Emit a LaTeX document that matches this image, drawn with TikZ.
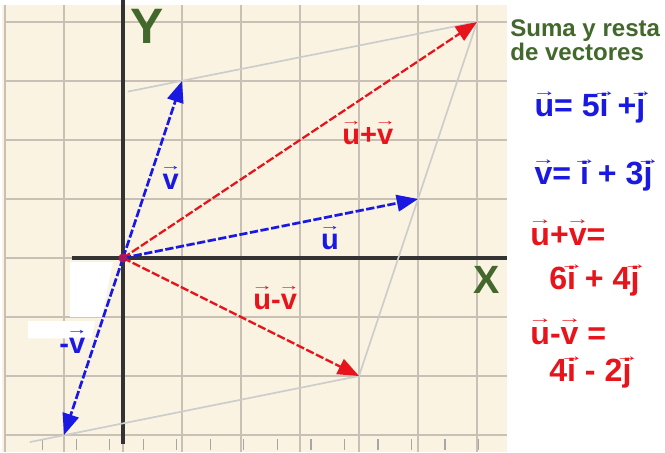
\documentclass[tikz,border=0pt]{standalone}
\usepackage{fontspec}
\setmainfont{Liberation Sans}
\usepackage{tikz}
\usetikzlibrary{arrows.meta, positioning}
\definecolor{paperbg}{RGB}{250,243,226}
\definecolor{gridgray}{RGB}{200,192,180}
\definecolor{vecblue}{RGB}{25,25,225}
\definecolor{vecred}{RGB}{232,20,28}
\definecolor{axisgreen}{RGB}{66,104,44}
\newcommand{\vv}[1]{\leavevmode\setbox0=\hbox{#1}%
    \rlap{\hbox to\wd0{\hss\raisebox{0.64em}{\scalebox{0.75}[0.5]{\mdseries →}}\hss}}\box0\relax}

\begin{document}
\begin{tikzpicture}[
    x=1cm, y=1cm,
    gridline/.style={gridgray, line width=1pt},
    axis/.style={black!80, line width=1.8pt},
    guide/.style={gray!40, line width=0.8pt},
    vecline/.style={-{Triangle[length=3.6mm, width=2.8mm]}, line width=1.3pt, dash pattern=on 4pt off 1.2pt},
    bluevec/.style={vecline, vecblue},
    redvec/.style={vecline, vecred, line width=1.1pt},
    veclabel/.style={font=\bfseries\fontsize{14}{15}\selectfont},
    sidetext/.style={anchor=base west, font=\bfseries\fontsize{15.5}{17}\selectfont},
    titletext/.style={anchor=base west, axisgreen, font=\bfseries\fontsize{11.6}{13}\selectfont},
    axislabel/.style={axisgreen, font=\bfseries\fontsize{24}{26}\selectfont}
]
\useasboundingbox[fill=white] (-2.085,-3.288) rectangle (9.186,4.373);

% Squared paper
\fill[paperbg] (-2.05,-3.29) rectangle (6.5,4.29);
\draw[gridline] (-2,-3.29) grid (6.5,4.29);
\fill[white] (-0.9,-0.07) -- (-0.17,-0.07) -- (-0.36,-1.0) -- (-0.9,-1.0) -- cycle;
\fill[white] (-1.61,-1.07) -- (-0.47,-1.07) -- (-0.53,-1.36) -- (-1.61,-1.36) -- cycle;
\foreach \k in {0,...,13}
    \draw[gray!70, line width=0.6pt] (-1.36+0.568*\k,-3.07) -- (-1.36+0.568*\k,-3.26);

% Axes
\coordinate (O) at (0,0);
\coordinate (ytop) at (0,4.37);
\coordinate (ybot) at (0,-3.15);
\coordinate (xleft) at (-0.86,0);
\coordinate (xright) at (6.5,0);
\draw[axis] (ybot) -- (ytop);
\draw[axis] (xleft) -- (xright);
\node[axislabel] (ylab) at (0.4,3.92) {Y};
\node[axislabel, font=\bfseries\fontsize{19}{21}\selectfont] (xlab) at (6.17,-0.37) {X};

% Vector tips
\coordinate (U) at (5,1);
\coordinate (V) at (1,3);
\coordinate (mV) at (-1,-3);
\coordinate (UpV) at (6,4);
\coordinate (UmV) at (4,-2);

% Parallelogram guides
\coordinate (g1) at (0.08,2.82);
\coordinate (g2) at (-1.58,-3.12);
\draw[guide] (g1) -- (UpV);
\draw[guide] (UpV) -- (UmV);
\draw[guide] (g2) -- (UmV);

% Vectors
\draw[redvec] (O) -- (UpV);
\draw[redvec] (O) -- (UmV);
\draw[bluevec] (O) -- (U);
\draw[bluevec] (O) -- (V);
\draw[bluevec] (O) -- (mV);
\fill[vecred!70!vecblue] (O) circle (2.2pt);

% Vector labels
\node[veclabel, vecblue] (vlab) at (0.81,1.36) {\vv{v}};
\node[veclabel, vecblue] (ulab) at (3.51,0.34) {\vv{u}};
\node[veclabel, vecblue] (mvlab) at (-0.86,-1.42) {-\vv{v}};
\node[veclabel, vecred] (sumlab) at (4.15,2.12) {\vv{u}+\vv{v}};
\node[veclabel, vecred] (diflab) at (2.58,-0.68) {\vv{u}-\vv{v}};

% Side panel
\node[titletext] (title1) at (6.44,3.76) {Suma y resta};
\node[titletext] (title2) at (6.44,3.34) {de vectores};
\node[sidetext, vecblue] (ueq) at (6.85,2.39) {\vv{u}= 5\vv{i} +\vv{j}};
\node[sidetext, vecblue] (veq) at (6.85,1.24) {\vv{v}= \vv{i} + 3\vv{j}};
\node[sidetext, vecred] (sumeq) at (6.78,0.22) {\vv{u}+\vv{v}=};
\node[sidetext, vecred] (sumres) at (7.1,-0.54) {6\vv{i} + 4\vv{j}};
\node[sidetext, vecred] (difeq) at (6.78,-1.46) {\vv{u}-\vv{v} =};
\node[sidetext, vecred] (difres) at (7.1,-2.10) {4\vv{i} - 2\vv{j}};
\end{tikzpicture}
\end{document}
